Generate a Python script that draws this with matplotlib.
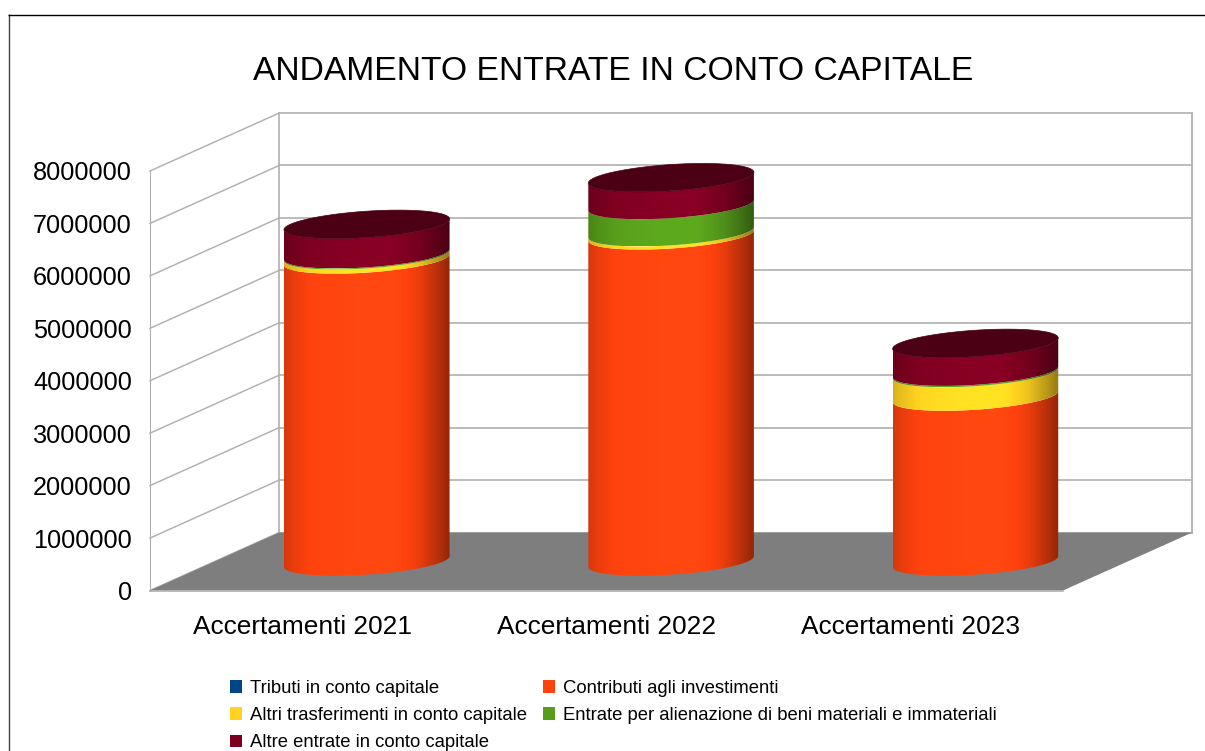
import numpy as np
import matplotlib
matplotlib.use("Agg")
import matplotlib.pyplot as plt
from matplotlib.lines import Line2D
from matplotlib.patches import Patch, Polygon
from matplotlib.colors import to_rgb

plt.rcParams['font.family'] = ['Liberation Sans', 'DejaVu Sans']

title = "ANDAMENTO ENTRATE IN CONTO CAPITALE"
categories = ["Accertamenti 2021", "Accertamenti 2022", "Accertamenti 2023"]
tick_values = [0, 1000000, 2000000, 3000000, 4000000, 5000000, 6000000, 7000000, 8000000]
series_names = ["Tributi in conto capitale", "Contributi agli investimenti",
                "Altri trasferimenti in conto capitale",
                "Entrate per alienazione di beni materiali e immateriali",
                "Altre entrate in conto capitale"]
tributi = [0, 0, 0]
contributi = [5760000, 6220000, 3145000]
altri_trasf = [80000, 60000, 450000]
alienazione = [20000, 520000, 25000]
altre = [570000, 520000, 540000]
series_values = [tributi, contributi, altri_trasf, alienazione, altre]
series_colors = ["#004586", "#ff420e", "#ffd320", "#579d1c", "#7e0021"]

W, H = 1205, 751
fig = plt.figure(figsize=(W / 100, H / 100), dpi=100, facecolor="white")

# front plane of the 3D box, in pixels
L, R, T, B = 150, 1063, 171, 590.5
ax = fig.add_axes([L / W, 1 - B / H, (R - L) / W, (B - T) / H])
ax.patch.set_visible(False)
for s in ax.spines.values():
    s.set_visible(False)
ax.set_xlim(0, 3)
ax.set_ylim(0, 8000000)

# depth vector of the box, in data units
DX = 129.2 / ((R - L) / 3)
DY = 58 / ((B - T) / 8000000)
xmax, ymax = 3, 8000000
GRID = "#b0b0b0"


def P(x, v, d):
    return x + d * DX, v + d * DY


# floor
ax.add_patch(Polygon([P(0, 0, 0), P(xmax, 0, 0), P(xmax, 0, 1), P(0, 0, 1)],
                     closed=True, fc="#7e7e7e", ec="none", zorder=1, clip_on=False))
# walls and grid
for v in tick_values:
    p0, p1, p2 = P(0, v, 0), P(0, v, 1), P(xmax, v, 1)
    ax.plot([p0[0], p1[0]], [p0[1], p1[1]], color=GRID, lw=1.05, zorder=0.5, clip_on=False)
    ax.plot([p1[0], p2[0]], [p1[1], p2[1]], color=GRID, lw=1.2, zorder=0.5, clip_on=False)
for x, d, lw in [(0, 0, 0.8), (0, 1, 1.2), (xmax, 1, 1.3)]:
    p0, p1 = P(x, 0, d), P(x, ymax, d)
    ax.plot([p0[0], p1[0]], [p0[1], p1[1]], color=GRID, lw=lw, zorder=0.5, clip_on=False)
p0, p1 = P(0, 0, 0), P(xmax, 0, 0)
ax.plot([p0[0], p1[0]], [p0[1], p1[1]], color=GRID, lw=1.2, zorder=1.5, clip_on=False)

# cylinders
w = 0.2514      # half width along x
k = 0.245       # half depth as a fraction of the box depth
t0 = np.arctan2(k * DX, w)
half_x = np.hypot(w, k * DX)
stops_t = [0.0, 0.04, 0.17, 0.45, 0.66, 0.82, 0.93, 1.0]
stops_s = [0.84, 0.90, 1.02, 1.08, 1.08, 0.92, 0.72, 0.58]


def ring(c, v, t):
    return (c + 0.5 * DX + w * np.cos(t) + k * DX * np.sin(t),
            v + (0.5 + k * np.sin(t)) * DY)


tt = np.linspace(t0, t0 - np.pi, 120)
u = np.linspace(0, 1, 300)
shade = np.interp(u, stops_t, stops_s)
for i in range(len(categories)):
    c = i + 0.5
    base = 0
    for vals, col in zip(series_values, series_colors):
        h = vals[i]
        if h <= 0:
            continue
        xb, yb = ring(c, base, tt)
        xt, yt = ring(c, base + h, tt)
        verts = np.column_stack([np.r_[xb, xt[::-1]], np.r_[yb, yt[::-1]]])
        clip = Polygon(verts, closed=True, transform=ax.transData, fc="none", ec="none")
        rgb = np.clip(np.array(to_rgb(col))[None, None, :] * shade[None, :, None], 0, 1)
        cx = c + 0.5 * DX
        im = ax.imshow(rgb, extent=[cx - half_x, cx + half_x, verts[:, 1].min(), verts[:, 1].max()],
                       aspect="auto", interpolation="bilinear", zorder=2 + i)
        im.set_clip_path(clip)
        base += h
    ta = np.linspace(0, 2 * np.pi, 240)
    xc, yc = ring(c, base, ta)
    ax.add_patch(Polygon(np.column_stack([xc, yc]), closed=True, fc="#4b0014", ec="#4b0014",
                         lw=0.5, zorder=2.5 + i, clip_on=False))

ax.set_xlim(0, 3)
ax.set_ylim(0, 8000000)

ax.set_yticks(tick_values)
ax.set_yticklabels([str(v) for v in tick_values], fontsize=18.2, color="black")
ax.set_xticks([i + 0.5 for i in range(len(categories))])
ax.set_xticklabels(categories, fontsize=18.9, color="black")
ax.tick_params(axis="y", length=0, pad=13)
ax.tick_params(axis="x", length=0, pad=17.5)

fig.suptitle(title, x=613 / W, y=1 - 71.5 / H, va="center", ha="center", fontsize=24.25, color="black")

# legend
order = [0, 2, 4, 1, 3]
handles = [Patch(fc=series_colors[j], ec="none", label=series_names[j]) for j in order]
fig.legend(handles=handles, ncol=2, frameon=False, fontsize=13.3,
           loc="upper left", bbox_to_anchor=(230 / W, 1 - 680 / H),
           bbox_transform=fig.transFigure, borderaxespad=0, borderpad=0,
           handlelength=0.66, handleheight=0.66, handletextpad=0.43,
           labelspacing=0.55, columnspacing=0.85)

# outer frame
fig.add_artist(Line2D([8.5 / W, 8.5 / W], [1 - 14 / H, 0], color="#404040", lw=1.0,
                      solid_capstyle="butt", transform=fig.transFigure))
fig.add_artist(Line2D([8 / W, 1], [1 - 14.5 / H, 1 - 14.5 / H], color="black", lw=1.0,
                      solid_capstyle="butt", transform=fig.transFigure))

fig.savefig("out.png", dpi=100, facecolor="white")
